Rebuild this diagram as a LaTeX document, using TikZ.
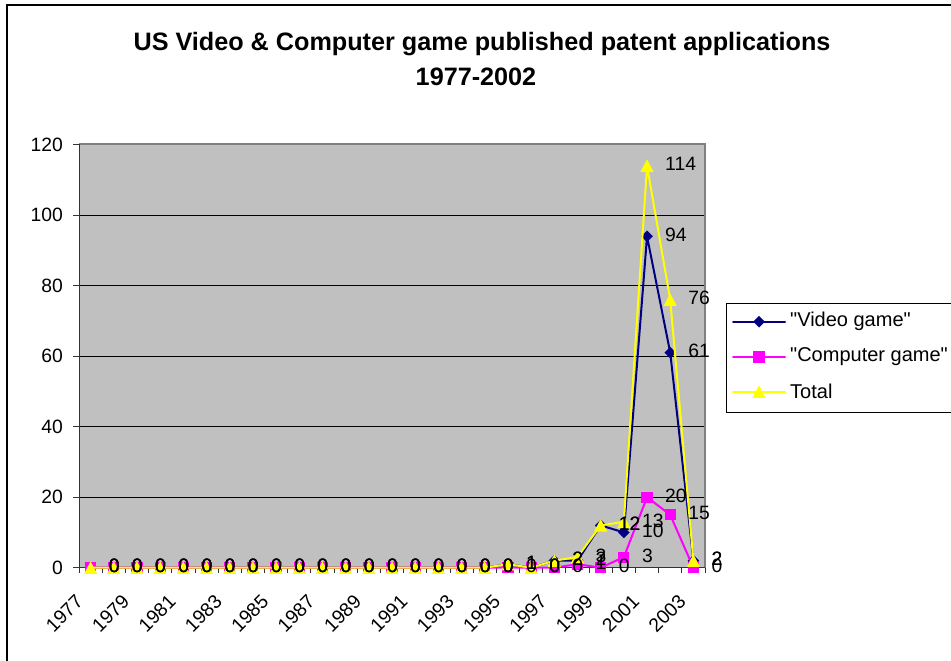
\documentclass[tikz,border=0pt]{standalone}
\usepackage{fontspec}
\setmainfont{Liberation Sans}
\definecolor{navyc}{HTML}{000080}
\definecolor{magc}{HTML}{FF00FF}
\definecolor{yelc}{HTML}{FFFF00}
\definecolor{plotbg}{HTML}{C0C0C0}
\definecolor{bordc}{HTML}{808080}
\def\vdata{0,0,0,0,0,0,0,0,0,0,0,0,0,0,0,0,0,0,1,0,2,2,12,10,94,61,2}
\def\cdata{0,0,0,0,0,0,0,0,0,0,0,0,0,0,0,0,0,0,0,0,0,1,0,3,20,15,0}
\def\tdata{0,0,0,0,0,0,0,0,0,0,0,0,0,0,0,0,0,0,1,0,2,3,12,13,114,76,2}
\begin{document}
\begin{tikzpicture}[x=1pt,y=-1pt,
  num/.style={font=\fontsize{19.3}{22}\selectfont, inner sep=0pt},
  legtext/.style={font=\fontsize{20}{23}\selectfont, inner sep=0pt, anchor=west},
  titletext/.style={font=\bfseries\fontsize{25.2}{29}\selectfont, inner sep=0pt},
  serline/.style={line width=2pt, line join=round, line cap=round}]
\useasboundingbox (0,0) rectangle (951,661);
\clip (0,0) rectangle (951,661);
\fill[white] (0,0) rectangle (951,661);
% outer frame (cropped at right and bottom)
\draw[line width=1.5pt] (7,670) -- (7,5) -- (960,5);
% title
\node[titletext] (title1) at (482,44) {US Video \& Computer game published patent applications};
\node[titletext] (title2) at (476,77) {1977-2002};
% plot area
\fill[plotbg] (79,144) rectangle (705,567.7);
\foreach \g in {20,40,...,100} {
  \pgfmathsetmacro\gy{567.7-\g*3.5255}
  \draw[line width=0.8pt] (79,\gy) -- (705,\gy);
}
\draw[bordc, line width=1.2pt] (79,144) -- (705,144) -- (705,567.7);
\draw[line width=1pt, black!80] (79,144) -- (79,573);
\draw[line width=1pt, black!80] (73,567.7) -- (705,567.7);
% y axis ticks and labels
\foreach \g in {0,20,...,120} {
  \pgfmathsetmacro\gy{567.7-\g*3.5255}
  \draw[line width=0.8pt, black!80] (73,\gy) -- (79,\gy);
  \node[num, anchor=east] (ylab\g) at (63,\gy) {\g};
}
% x axis ticks
\foreach \k in {0,...,27} {
  \draw[line width=0.8pt, black!80] ({79+\k*23.185},567.7) -- ++(0,5);
}
% x labels
\foreach \yr [count=\j from 0] in {1977,1979,...,2003} {
  \node[num, rotate=45, anchor=east] (xlab\yr) at ({79+(2*\j+0.5)*23.185-11},598) {\yr};
}
% data coordinates
\foreach \v [count=\i from 0] in \vdata {\coordinate (V\i) at ({79+(\i+0.5)*23.185},{567.7-\v*3.5255});}
\foreach \v [count=\i from 0] in \cdata {\coordinate (C\i) at ({79+(\i+0.5)*23.185},{567.7-\v*3.5255});}
\foreach \v [count=\i from 0] in \tdata {\coordinate (T\i) at ({79+(\i+0.5)*23.185},{567.7-\v*3.5255});}
% video game series
\draw[serline, navyc] (V0) \foreach \i in {1,...,26} {-- (V\i)};
\foreach \i in {0,...,26} {\fill[navyc] (V\i) +(0,-5.8) -- +(5.8,0) -- +(0,5.8) -- +(-5.8,0) -- cycle;}
% computer game series
\draw[serline, magc] (C0) \foreach \i in {1,...,26} {-- (C\i)};
\foreach \i in {0,...,26} {\fill[magc] (C\i) +(-5.6,-5.6) rectangle +(5.6,5.6);}
% total series
\draw[serline, yelc] (T0) \foreach \i in {1,...,26} {-- (T\i)};
\foreach \i in {0,...,26} {\fill[yelc] (T\i) +(0,-6.4) -- +(6.6,6.2) -- +(-6.6,6.2) -- cycle;}
% data labels
\foreach \v [count=\i from 0] in \vdata {\node[num, anchor=west] (LV\i) at ([xshift=18pt,yshift=1.5pt]V\i) {\v};}
\foreach \v [count=\i from 0] in \cdata {\node[num, anchor=west] (LC\i) at ([xshift=18pt,yshift=1.5pt]C\i) {\v};}
\foreach \v [count=\i from 0] in \tdata {\node[num, anchor=west] (LT\i) at ([xshift=18pt,yshift=1.5pt]T\i) {\v};}
% legend
\draw[line width=1pt] (726,303) rectangle (970,412);
\coordinate (LgA1) at (733,321.7); \coordinate (LgB1) at (785,321.7); \coordinate (LgM1) at (759,321.7);
\coordinate (LgA2) at (733,357); \coordinate (LgB2) at (785,357); \coordinate (LgM2) at (759,357);
\coordinate (LgA3) at (733,391.7); \coordinate (LgB3) at (785,391.7); \coordinate (LgM3) at (759,391.7);
\draw[serline, navyc] (LgA1) -- (LgB1);
\fill[navyc] (LgM1) +(0,-5.8) -- +(5.8,0) -- +(0,5.8) -- +(-5.8,0) -- cycle;
\draw[serline, magc] (LgA2) -- (LgB2);
\fill[magc] (LgM2) +(-5.6,-5.6) rectangle +(5.6,5.6);
\draw[serline, yelc] (LgA3) -- (LgB3);
\fill[yelc] (LgM3) +(0,-6.4) -- +(6.6,6.2) -- +(-6.6,6.2) -- cycle;
\node[legtext] (leg1) at (790,321.7) {\textquotedbl Video game\textquotedbl};
\node[legtext] (leg2) at (790,357) {\textquotedbl Computer game\textquotedbl};
\node[legtext] (leg3) at (790,391.7) {Total};
\end{tikzpicture}
\end{document}
